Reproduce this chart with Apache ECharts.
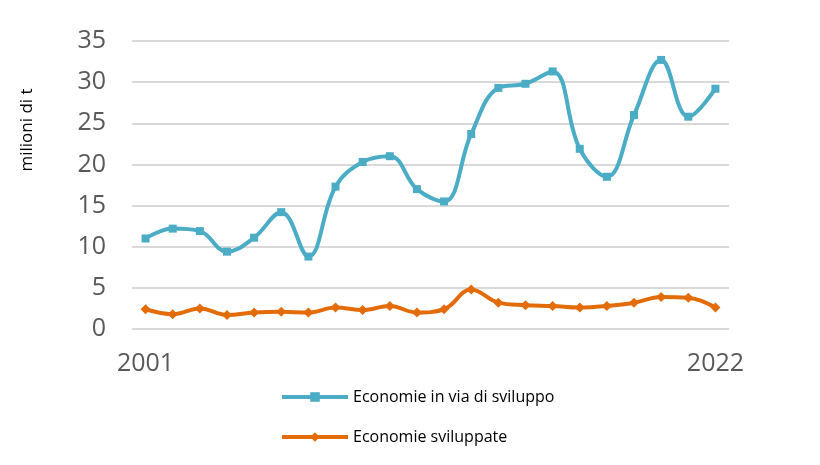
<!DOCTYPE html>
<html><head><meta charset="utf-8">
<script src="https://cdn.jsdelivr.net/npm/echarts@6/dist/echarts.min.js"></script>
<style>html,body{margin:0;padding:0;background:#fff}#c{width:820px;height:465px}</style>
</head><body><div id="c"></div>
<script>
const years = [];
for (let y = 2001; y <= 2022; y++) years.push(String(y));
const sviluppo = [11.0,12.2,11.9,9.4,11.1,14.2,8.8,17.3,20.3,21.0,17.0,15.5,23.7,29.3,29.8,31.3,21.9,18.5,26.0,32.7,25.8,29.2];
const sviluppate = [2.4,1.8,2.5,1.7,2.0,2.1,2.0,2.6,2.3,2.8,2.0,2.4,4.8,3.2,2.9,2.8,2.6,2.8,3.2,3.9,3.8,2.6];
const chart = echarts.init(document.getElementById('c'));
chart.setOption({
  animation:false,
  grid:{left:132,right:91,top:41,bottom:136},
  legend:{orient:'vertical',left:275,top:384,itemGap:24,itemWidth:66,itemHeight:12,
    lineStyle:{width:4},
    textStyle:{fontFamily:'Open Sans',fontSize:16,color:'#000'},
    data:['Economie in via di sviluppo','Economie sviluppate']},
  graphic:[{type:'text',x:27,y:130,rotation:Math.PI/2,
    style:{text:'milioni di t',font:'17px "Open Sans"',fill:'#000',align:'center',verticalAlign:'middle'}}],
  xAxis:{type:'category',data:years,boundaryGap:true,
    axisLine:{show:false},axisTick:{show:false},
    axisLabel:{interval:(i)=>i===0||i===years.length-1,margin:22,
      fontFamily:'Open Sans',fontSize:25,color:'#595959'}},
  yAxis:{type:'value',min:0,max:35,interval:5,
    axisLabel:{margin:26,fontFamily:'Open Sans',fontSize:25,color:'#595959'},
    splitLine:{lineStyle:{color:'#d9d9d9',width:2}}},
  series:[
    {name:'Economie in via di sviluppo',type:'line',data:sviluppo,smooth:0.4,
      symbol:'rect',symbolSize:8,lineStyle:{width:4,color:'#4bacc6'},itemStyle:{color:'#4bacc6'}},
    {name:'Economie sviluppate',type:'line',data:sviluppate,smooth:0.4,
      symbol:'diamond',symbolSize:10,lineStyle:{width:4,color:'#e36c09'},itemStyle:{color:'#e36c09'}}
  ]
});
</script></body></html>
